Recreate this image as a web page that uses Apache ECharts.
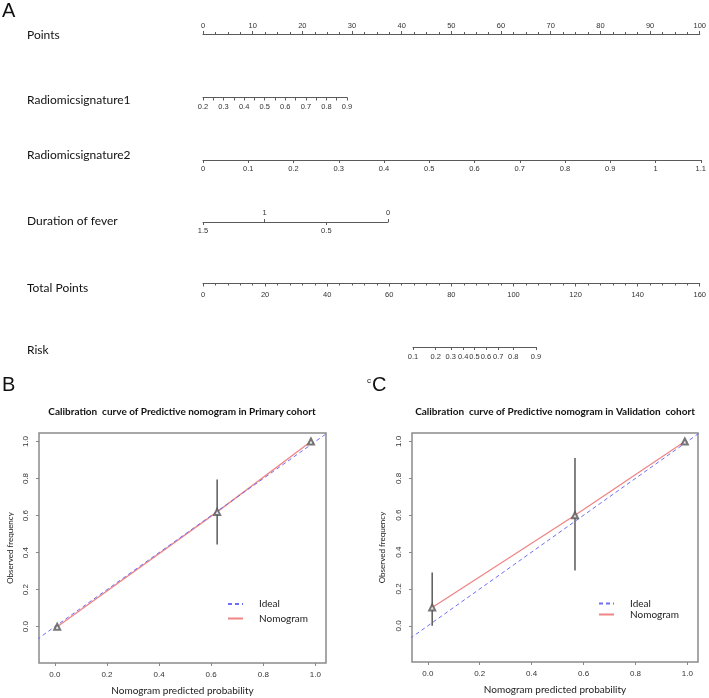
<!DOCTYPE html>
<html><head><meta charset="utf-8">
<script src="https://cdn.jsdelivr.net/npm/echarts@6.0.0/dist/echarts.min.js"></script>
<style>html,body{margin:0;padding:0;background:#fff}#c{width:709px;height:698px}</style>
</head><body><div id="c"></div>
<script>
// ---------- Panel A: nomogram scales ----------
const rowNames = ['Points', 'Radiomicsignature1', 'Radiomicsignature2', 'Duration of fever', 'Total Points', 'Risk'];
const pointsRange = [0, 100];
const rad1Labels = [0.2, 0.3, 0.4, 0.5, 0.6, 0.7, 0.8, 0.9];
const rad1Ticks = [0.2, 0.25, 0.3, 0.35, 0.4, 0.45, 0.5, 0.55, 0.6, 0.65, 0.7, 0.75, 0.8, 0.85, 0.9];
const rad2Labels = [0, 0.1, 0.2, 0.3, 0.4, 0.5, 0.6, 0.7, 0.8, 0.9, 1, 1.1];
const feverRange = [0, 1.5];
const feverTopLabels = [1, 0];
const feverBottomLabels = [1.5, 0.5];
const totalRange = [0, 160];
const riskLabels = [0.1, 0.2, 0.3, 0.4, 0.5, 0.6, 0.7, 0.8, 0.9];

// ---------- Panels B, C: calibration ----------
const calTicks = [0, 0.2, 0.4, 0.6, 0.8, 1.0];
const idealEnds = [-0.2, 1.2];
const primaryPred = [0.009, 0.623, 0.983];
const primaryObs = [0.0, 0.62, 1.0];
const primaryErrX = [0.623];
const primaryErrLo = [0.444];
const primaryErrHi = [0.795];
const validPred = [0.017, 0.567, 0.99];
const validObs = [0.10, 0.60, 1.0];
const validErrX = [0.017, 0.567];
const validErrLo = [0.0, 0.30];
const validErrHi = [0.29, 0.91];

const logit = p => Math.log(p / (1 - p));
const expit = v => 1 / (1 + Math.exp(-v));

const numFont = 'Liberation Sans';
const txtFont = 'Lato';
const lineCol = '#5a5a5a';
const lblCol = '#333';

function nomoAxis(extra) {
  return Object.assign({
    type: 'value',
    axisLine: { show: true, onZero: false, lineStyle: { color: lineCol, width: 1 } },
    axisTick: { show: true, length: 3, lineStyle: { color: lineCol } },
    axisLabel: { fontSize: 7.5, fontFamily: numFont, color: lblCol, margin: 5 },
    splitLine: { show: false }
  }, extra);
}

const grids = [
  { left: 203, width: 498, top: 34, height: 0 },
  { left: 203, width: 144, top: 97.5, height: 0 },
  { left: 203, width: 498, top: 160, height: 0 },
  { left: 203, width: 185, top: 222, height: 0 },
  { left: 203, width: 498, top: 283.5, height: 0 },
  { left: 413, width: 123, top: 347, height: 0 },
  { left: 39, top: 433, width: 287, height: 230, show: true, borderColor: '#8a8a8a', borderWidth: 1.5, backgroundColor: 'transparent' },
  { left: 412, top: 433, width: 286, height: 229, show: true, borderColor: '#8a8a8a', borderWidth: 1.5, backgroundColor: 'transparent' }
];

const xAxes = [
  nomoAxis({ gridIndex: 0, position: 'top', min: pointsRange[0], max: pointsRange[1], interval: 10,
    minorTick: { show: true, splitNumber: 4, length: 2, lineStyle: { color: lineCol } },
    axisLabel: { fontSize: 7.5, fontFamily: numFont, color: lblCol, margin: 4 } }),
  nomoAxis({ gridIndex: 1, position: 'bottom', min: rad1Labels[0], max: rad1Labels[rad1Labels.length - 1],
    axisTick: { show: true, length: 3, customValues: rad1Ticks, lineStyle: { color: lineCol } },
    axisLabel: { fontSize: 7.5, fontFamily: numFont, color: lblCol, margin: 5, customValues: rad1Labels, formatter: v => v.toFixed(1) } }),
  nomoAxis({ gridIndex: 2, position: 'bottom', min: rad2Labels[0], max: rad2Labels[rad2Labels.length - 1],
    axisTick: { show: true, length: 3, customValues: rad2Labels, lineStyle: { color: lineCol } },
    axisLabel: { fontSize: 7.5, fontFamily: numFont, color: lblCol, margin: 5, customValues: rad2Labels, formatter: v => String(+v.toFixed(1)) } }),
  nomoAxis({ gridIndex: 3, position: 'top', inverse: true, min: feverRange[0], max: feverRange[1],
    axisTick: { show: true, length: 3, customValues: feverTopLabels, lineStyle: { color: lineCol } },
    axisLabel: { fontSize: 7.5, fontFamily: numFont, color: lblCol, margin: 5, customValues: feverTopLabels, formatter: v => String(v) } }),
  nomoAxis({ gridIndex: 3, position: 'bottom', inverse: true, min: feverRange[0], max: feverRange[1],
    axisLine: { show: false, onZero: false },
    axisTick: { show: true, length: 3, customValues: feverBottomLabels, lineStyle: { color: lineCol } },
    axisLabel: { fontSize: 7.5, fontFamily: numFont, color: lblCol, margin: 5, customValues: feverBottomLabels, formatter: v => String(v) } }),
  nomoAxis({ gridIndex: 4, position: 'bottom', min: totalRange[0], max: totalRange[1], interval: 20,
    minorTick: { show: true, splitNumber: 5, length: 2, lineStyle: { color: lineCol } },
    axisLabel: { fontSize: 7.5, fontFamily: numFont, color: lblCol, margin: 7 } }),
  nomoAxis({ gridIndex: 5, position: 'bottom', min: logit(riskLabels[0]), max: logit(riskLabels[riskLabels.length - 1]),
    axisTick: { show: true, length: 3, customValues: riskLabels.map(logit), lineStyle: { color: lineCol } },
    axisLabel: { fontSize: 7.5, fontFamily: numFont, color: lblCol, margin: 6, customValues: riskLabels.map(logit), formatter: v => expit(v).toFixed(1), hideOverlap: false } }),
];

function calX(gi) {
  return {
    type: 'value', gridIndex: gi, min: -0.0608, max: 1.0408, position: 'bottom',
    name: 'Nomogram predicted probability', nameLocation: 'middle', nameGap: 23,
    nameTextStyle: { fontSize: 10, fontFamily: txtFont, color: '#222' },
    axisLine: { show: false, onZero: false },
    axisTick: { show: true, length: 3, customValues: calTicks, lineStyle: { color: '#888' } },
    axisLabel: { fontSize: 8, fontFamily: numFont, color: lblCol, margin: 8, customValues: calTicks, formatter: v => v.toFixed(1) },
    splitLine: { show: false }
  };
}
function calY(gi, gap) {
  return {
    type: 'value', gridIndex: gi, min: -0.196, max: 1.046, position: 'left',
    name: 'Observed frequency', nameLocation: 'middle', nameGap: gap,
    nameTextStyle: { fontSize: 8, fontFamily: txtFont, color: '#222' },
    axisLine: { show: false, onZero: false },
    axisTick: { show: true, length: 3, customValues: calTicks, lineStyle: { color: '#888' } },
    axisLabel: { fontSize: 8, fontFamily: numFont, color: lblCol, margin: 9, rotate: 90, customValues: calTicks, formatter: v => v.toFixed(1) },
    splitLine: { show: false }
  };
}
xAxes.push(calX(6), calX(7));

const yAxes = [0, 1, 2, 3, 4, 5].map(i => ({ type: 'value', gridIndex: i, show: false, min: 0, max: 1 }));
yAxes.push(calY(6, 25), calY(7, 26));

const idealColor = '#6f6ff5';
const nomoColor = '#f08585';
function calSeries(xi, yi, pred, obs, ex, elo, ehi) {
  return [
    { name: 'Ideal', type: 'line', xAxisIndex: xi, yAxisIndex: yi, symbol: 'none', clip: true, z: 3,
      data: idealEnds.map(v => [v, v]),
      lineStyle: { color: idealColor, width: 1, type: [4, 3] }, itemStyle: { color: idealColor } },
    { name: 'Nomogram', type: 'line', xAxisIndex: xi, yAxisIndex: yi, symbol: 'none', z: 2,
      data: pred.map((x, i) => [x, obs[i]]),
      lineStyle: { color: nomoColor, width: 1.3 }, itemStyle: { color: nomoColor } },
    { name: 'points', type: 'scatter', xAxisIndex: xi, yAxisIndex: yi, symbol: 'emptyTriangle', symbolSize: 6, z: 4,
      data: pred.map((x, i) => [x, obs[i]]),
      itemStyle: { color: '#555', borderWidth: 0.8 } },
    { name: 'errors', type: 'custom', xAxisIndex: xi, yAxisIndex: yi, z: 1,
      data: ex.map((x, i) => [x, elo[i], ehi[i]]),
      encode: { x: 0, y: [1, 2] },
      renderItem: (params, api) => {
        const p1 = api.coord([api.value(0), api.value(1)]);
        const p2 = api.coord([api.value(0), api.value(2)]);
        return { type: 'line', shape: { x1: p1[0], y1: p1[1], x2: p2[0], y2: p2[1] }, style: { stroke: '#5a5a5a', lineWidth: 1.5 } };
      } }
  ];
}

const rowY = [35, 100, 155, 221, 288, 350];
const graphics = rowNames.map((t, i) => ({
  type: 'text', x: 27, y: rowY[i],
  style: { text: t, fontFamily: txtFont, fontSize: 12, fill: '#111', verticalAlign: 'middle', align: 'left' }
}));
graphics.push(
  { type: 'text', x: 2, y: 11, style: { text: 'A', fontFamily: numFont, fontSize: 20, fill: '#111', verticalAlign: 'middle' } },
  { type: 'text', x: 2, y: 385, style: { text: 'B', fontFamily: numFont, fontSize: 20, fill: '#111', verticalAlign: 'middle' } },
  { type: 'text', x: 367, y: 381, style: { text: 'c', fontFamily: numFont, fontSize: 8, fill: '#111', verticalAlign: 'middle' } },
  { type: 'text', x: 372, y: 385, style: { text: 'C', fontFamily: numFont, fontSize: 20, fill: '#111', verticalAlign: 'middle' } }
);

function legendAt(left, top, gap) {
  return {
    left: left, top: top, orient: 'vertical', itemWidth: 15, itemHeight: 8, itemGap: gap,
    data: ['Ideal', 'Nomogram'], selectedMode: false, padding: 0,
    itemStyle: { opacity: 0 },
    textStyle: { fontSize: 10, fontFamily: txtFont, color: '#222', padding: [0, 0, 0, 11] }
  };
}

const option = {
  animation: false,
  backgroundColor: '#fff',
  title: [
    { text: 'Calibration  curve of Predictive nomogram in Primary cohort', left: 182, top: 407, textAlign: 'center', padding: 0,
      textStyle: { fontSize: 10, fontWeight: 'bold', fontFamily: txtFont, color: '#111' } },
    { text: 'Calibration  curve of Predictive nomogram in Validation  cohort', left: 555, top: 407, textAlign: 'center', padding: 0,
      textStyle: { fontSize: 10, fontWeight: 'bold', fontFamily: txtFont, color: '#111' } }
  ],
  legend: [legendAt(227, 599, 4.5), legendAt(598, 598.5, 1)],
  grid: grids,
  xAxis: xAxes,
  yAxis: yAxes,
  graphic: graphics,
  series: [].concat(
    calSeries(7, 6, primaryPred, primaryObs, primaryErrX, primaryErrLo, primaryErrHi),
    calSeries(8, 7, validPred, validObs, validErrX, validErrLo, validErrHi)
  )
};

const chart = echarts.init(document.getElementById('c'), null, { renderer: 'canvas' });
chart.setOption(option);
</script>
</body></html>
